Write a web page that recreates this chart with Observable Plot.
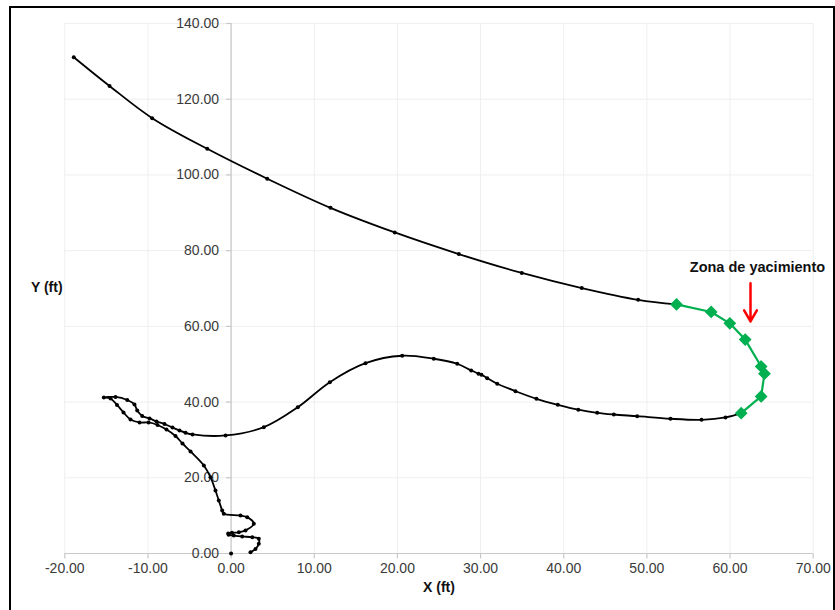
<!DOCTYPE html>
<html>
<head>
<meta charset="utf-8">
<script src="https://cdn.jsdelivr.net/npm/d3@7"></script>
<script src="https://cdn.jsdelivr.net/npm/@observablehq/plot@0.6"></script>
<style>
  html, body { margin: 0; padding: 0; background: #fff; overflow: hidden; }
  #wrap { position: relative; width: 835px; height: 610px; }
  #border { position: absolute; left: 9px; top: 6px; width: 822px; height: 640px; border: 2px solid #000; box-sizing: content-box; pointer-events: none; }
  #chart { position: absolute; left: 0; top: 0; }
</style>
</head>
<body>
<div id="wrap"><div id="chart"></div><div id="border"></div></div>
<script>
// ---- Data ----
// Black trajectory from the bottom (near origin) up to the start of the green segment
const lowerX = [2.33, 2.93, 3.33, 3.33, 2.54, 1.33, 0.32, -0.30, -0.35, 0.10, 0.93, 1.73, 2.73, 1.94, 1.13, -0.88, -1.07, -1.48, -1.88, -2.48, -3.28, -4.88, -5.85, -6.69, -7.77, -8.85, -9.93, -11.01, -12.10, -12.94, -13.72, -14.50, -15.31, -13.90, -12.49, -11.62, -11.29, -10.69, -9.81, -8.97, -8.01, -7.05, -6.21, -5.48, -4.64, -0.67, 3.93, 8.02, 11.87, 16.16, 20.57, 24.37, 27.19, 28.87, 29.75, 30.10, 30.80, 32.00, 34.20, 36.72, 39.29, 41.75, 44.02, 46.02, 48.83, 52.84, 56.57, 59.45];
const lowerY = [0.30, 1.20, 2.60, 3.90, 4.30, 4.50, 4.75, 4.95, 5.30, 5.45, 5.60, 6.10, 7.85, 9.60, 10.04, 10.49, 11.36, 14.00, 16.64, 20.16, 23.25, 26.95, 29.06, 31.04, 32.76, 33.95, 34.61, 34.61, 35.40, 37.25, 39.23, 40.95, 41.20, 41.35, 40.55, 39.37, 37.78, 36.33, 35.67, 34.87, 34.21, 33.29, 32.50, 31.89, 31.44, 31.18, 33.37, 38.65, 45.26, 50.28, 52.23, 51.44, 50.12, 48.35, 47.50, 47.25, 46.31, 44.83, 42.88, 40.87, 39.29, 38.00, 37.17, 36.72, 36.27, 35.59, 35.32, 35.93];
// Green "Zona de yacimiento" segment
const greenX = [61.34, 63.74, 64.14, 63.74, 61.82, 59.97, 57.73, 53.56];
const greenY = [37.07, 41.50, 47.50, 49.40, 56.50, 60.80, 63.80, 65.80];
// Black trajectory from the end of the green segment up to the top-left
const upperX = [48.95, 42.17, 34.96, 27.38, 19.68, 11.95, 4.34, -2.87, -9.49, -14.62, -18.92];
const upperY = [67.0, 70.1, 74.1, 79.1, 84.8, 91.3, 99.0, 106.9, 115.0, 123.5, 131.1];
// Isolated point at the origin
const originX = [0];
const originY = [0];
// Axis ticks and labels
const xTicks = [-20, -10, 0, 10, 20, 30, 40, 50, 60, 70];
const xTickLabels = ["-20.00", "-10.00", "0.00", "10.00", "20.00", "30.00", "40.00", "50.00", "60.00", "70.00"];
const yTicks = [0, 20, 40, 60, 80, 100, 120, 140];
const yTickLabels = ["0.00", "20.00", "40.00", "60.00", "80.00", "100.00", "120.00", "140.00"];
const xTitle = "X (ft)";
const yTitle = "Y (ft)";
const annotText = ["Zona de yacimiento"];
const annotX = [63.3];
const annotY = [75.6];
const arrowX = [62.46];
const arrowY1 = [71.4];
const arrowY2 = [61.3];

// ---- Build tables ----
const pts = (xs, ys) => xs.map((x, i) => ({x, y: ys[i]}));
const lower = pts(lowerX, lowerY);
const green = pts(greenX, greenY);
const upper = pts(upperX, upperY);
const lowerPath = lower.concat([green[0]]);
const upperPath = [green[green.length - 1]].concat(upper);
const origin = pts(originX, originY);
const xt = xTicks.map((v, i) => ({v, label: xTickLabels[i]}));
const yt = yTicks.map((v, i) => ({v, label: yTickLabels[i]}));
const arrows = arrowX.map((x, i) => ({x, y1: arrowY1[i], y2: arrowY2[i]}));
const annots = annotText.map((t, i) => ({t, x: annotX[i], y: annotY[i]}));

const tickLeft = {draw(ctx) { ctx.moveTo(0, 0); ctx.lineTo(-5, 0); }};
const tickDown = {draw(ctx) { ctx.moveTo(0, 0); ctx.lineTo(0, 5); }};

const axisColor = "#c9c9c9";
const gridColor = "#efefef";
const textColor = "#3a3a3a";

const chart = Plot.plot({
  width: 835,
  height: 610,
  marginLeft: 64.3,
  marginRight: 22.3,
  marginTop: 23,
  marginBottom: 57,
  style: {fontFamily: "'Liberation Sans', Arial, sans-serif", background: "transparent"},
  x: {domain: [-20, 70], axis: null},
  y: {domain: [0, 140], axis: null},
  marks: [
    Plot.ruleX(xt, {x: "v", stroke: gridColor, strokeWidth: 1}),
    Plot.ruleY(yt, {y: "v", stroke: gridColor, strokeWidth: 1}),
    Plot.ruleX([0], {stroke: axisColor, strokeWidth: 1.2}),
    Plot.ruleY([0], {stroke: axisColor, strokeWidth: 1.2}),
    Plot.dot(yt, {x: 0, y: "v", symbol: tickLeft, r: 1, stroke: axisColor, fill: "none", strokeWidth: 1.2}),
    Plot.dot(xt, {x: "v", y: 0, symbol: tickDown, r: 1, stroke: axisColor, fill: "none", strokeWidth: 1.2}),
    Plot.text(yt, {x: 0, y: "v", text: "label", textAnchor: "end", dx: -12, fontSize: 14, fill: textColor}),
    Plot.text(xt, {x: "v", y: 0, text: "label", textAnchor: "middle", dy: 15, fontSize: 14, fill: textColor}),
    Plot.text([xTitle], {frameAnchor: "bottom", textAnchor: "middle", dy: 38, fontSize: 14, fontWeight: "bold", fill: "#111"}),
    Plot.text([yTitle], {frameAnchor: "left", textAnchor: "middle", dx: -18, dy: -1, fontSize: 14, fontWeight: "bold", fill: "#111"}),
    Plot.line(lowerPath, {x: "x", y: "y", curve: "catmull-rom", stroke: "#000", strokeWidth: 1.8}),
    Plot.line(upperPath, {x: "x", y: "y", curve: "catmull-rom", stroke: "#000", strokeWidth: 1.8}),
    Plot.dot(lower, {x: "x", y: "y", r: 2, fill: "#000"}),
    Plot.dot(upper, {x: "x", y: "y", r: 2, fill: "#000"}),
    Plot.dot(origin, {x: "x", y: "y", r: 2, fill: "#000"}),
    Plot.line(green, {x: "x", y: "y", stroke: "#00B050", strokeWidth: 2.2}),
    Plot.dot(green, {x: "x", y: "y", symbol: "diamond2", r: 4.8, fill: "#00B050", stroke: "#00B050"}),
    Plot.text(annots, {x: "x", y: "y", text: "t", fontSize: 14.5, fontWeight: "bold", fill: "#111", textAnchor: "middle"}),
    Plot.arrow(arrows, {x: "x", y1: "y1", y2: "y2", stroke: "#FF0000", strokeWidth: 2.5, headLength: 11, headAngle: 60})
  ]
});
document.getElementById("chart").appendChild(chart);
</script>
</body>
</html>
